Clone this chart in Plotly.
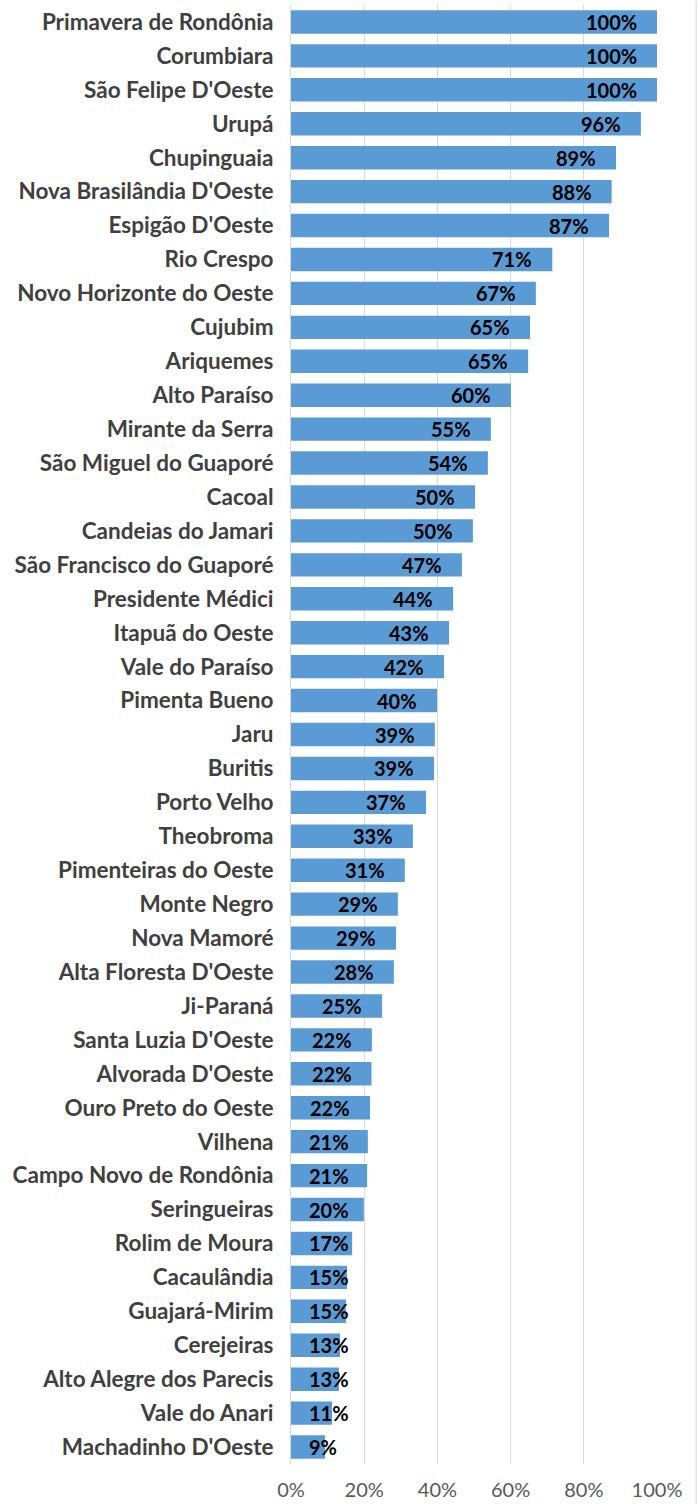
import plotly.graph_objects as go

municipios = [
    "Primavera de Rondônia", "Corumbiara", "São Felipe D'Oeste", "Urupá", "Chupinguaia",
    "Nova Brasilândia D'Oeste", "Espigão D'Oeste", "Rio Crespo", "Novo Horizonte do Oeste",
    "Cujubim", "Ariquemes", "Alto Paraíso", "Mirante da Serra", "São Miguel do Guaporé",
    "Cacoal", "Candeias do Jamari", "São Francisco do Guaporé", "Presidente Médici",
    "Itapuã do Oeste", "Vale do Paraíso", "Pimenta Bueno", "Jaru", "Buritis", "Porto Velho",
    "Theobroma", "Pimenteiras do Oeste", "Monte Negro", "Nova Mamoré", "Alta Floresta D'Oeste",
    "Ji-Paraná", "Santa Luzia D'Oeste", "Alvorada D'Oeste", "Ouro Preto do Oeste", "Vilhena",
    "Campo Novo de Rondônia", "Seringueiras", "Rolim de Moura", "Cacaulândia", "Guajará-Mirim",
    "Cerejeiras", "Alto Alegre dos Parecis", "Vale do Anari", "Machadinho D'Oeste",
]
percentuais = [
    1.000, 1.000, 1.000, 0.956, 0.888, 0.876, 0.869, 0.714, 0.669, 0.653, 0.648, 0.601,
    0.546, 0.538, 0.503, 0.497, 0.467, 0.443, 0.432, 0.418, 0.399, 0.393, 0.391, 0.369,
    0.333, 0.311, 0.292, 0.287, 0.281, 0.249, 0.221, 0.220, 0.216, 0.210, 0.208, 0.199,
    0.167, 0.153, 0.150, 0.134, 0.131, 0.112, 0.093,
]
rotulos_valor = ["100%", "100%", "100%", "96%", "89%", "88%", "87%", "71%", "67%", "65%",
                 "65%", "60%", "55%", "54%", "50%", "50%", "47%", "44%", "43%", "42%",
                 "40%", "39%", "39%", "37%", "33%", "31%", "29%", "29%", "28%", "25%",
                 "22%", "22%", "22%", "21%", "21%", "20%", "17%", "15%", "15%", "13%",
                 "13%", "11%", "9%"]
rotulos = ["0%", "20%", "40%", "60%", "80%", "100%"]
ticks = [0, 0.2, 0.4, 0.6, 0.8, 1.0]

FONT = "Lato, Open Sans, sans-serif"

fig = go.Figure()
fig.add_trace(go.Bar(
    y=municipios, x=percentuais, orientation="h",
    marker=dict(color="#5B9BD5", line=dict(width=0)),
    hoverinfo="skip",
))

# value labels: inside end of the bar; when the bar is too short, pinned near the bar start
annotations = []
for nome, v, txt in zip(municipios, percentuais, rotulos_valor):
    if v >= 0.215:
        annotations.append(dict(x=v, y=nome, xref="x", yref="y", text=txt, showarrow=False,
                                xanchor="right", xshift=-18,
                                font=dict(family=FONT, size=20, color="#000000", weight="bold")))
    else:
        annotations.append(dict(x=0, y=nome, xref="x", yref="y", text=txt, showarrow=False,
                                xanchor="left", xshift=16,
                                font=dict(family=FONT, size=20, color="#000000", weight="bold")))

fig.update_layout(
    width=699, height=1504,
    margin=dict(l=291, r=42, t=5, b=40),
    plot_bgcolor="white", paper_bgcolor="white",
    bargap=0.31, showlegend=False,
    font=dict(family=FONT),
    annotations=annotations,
)
fig.update_xaxes(
    range=[0, 1.0], tickvals=ticks, ticktext=rotulos,
    showgrid=True, gridcolor="#D9D9D9", gridwidth=1, zeroline=False,
    ticks="outside", ticklen=8, tickcolor="rgba(0,0,0,0)",
    tickfont=dict(size=20, color="#595959"), showline=False, automargin=False,
)
fig.update_yaxes(
    categoryorder="array", categoryarray=municipios, autorange="reversed",
    tickfont=dict(size=22.5, color="#404040", weight="bold"),
    ticks="outside", ticklen=12, tickcolor="rgba(0,0,0,0)",
    showline=True, linecolor="#D9D9D9", linewidth=1, automargin=False,
)
fig.add_shape(type="line", xref="paper", yref="paper", x0=1.107, x1=1.107, y0=-0.03, y1=1.003,
              line=dict(color="#D0D0D0", width=1))
fig.write_html("out.html", config={"displayModeBar": False},
               post_script="document.body.style.margin='0';")
